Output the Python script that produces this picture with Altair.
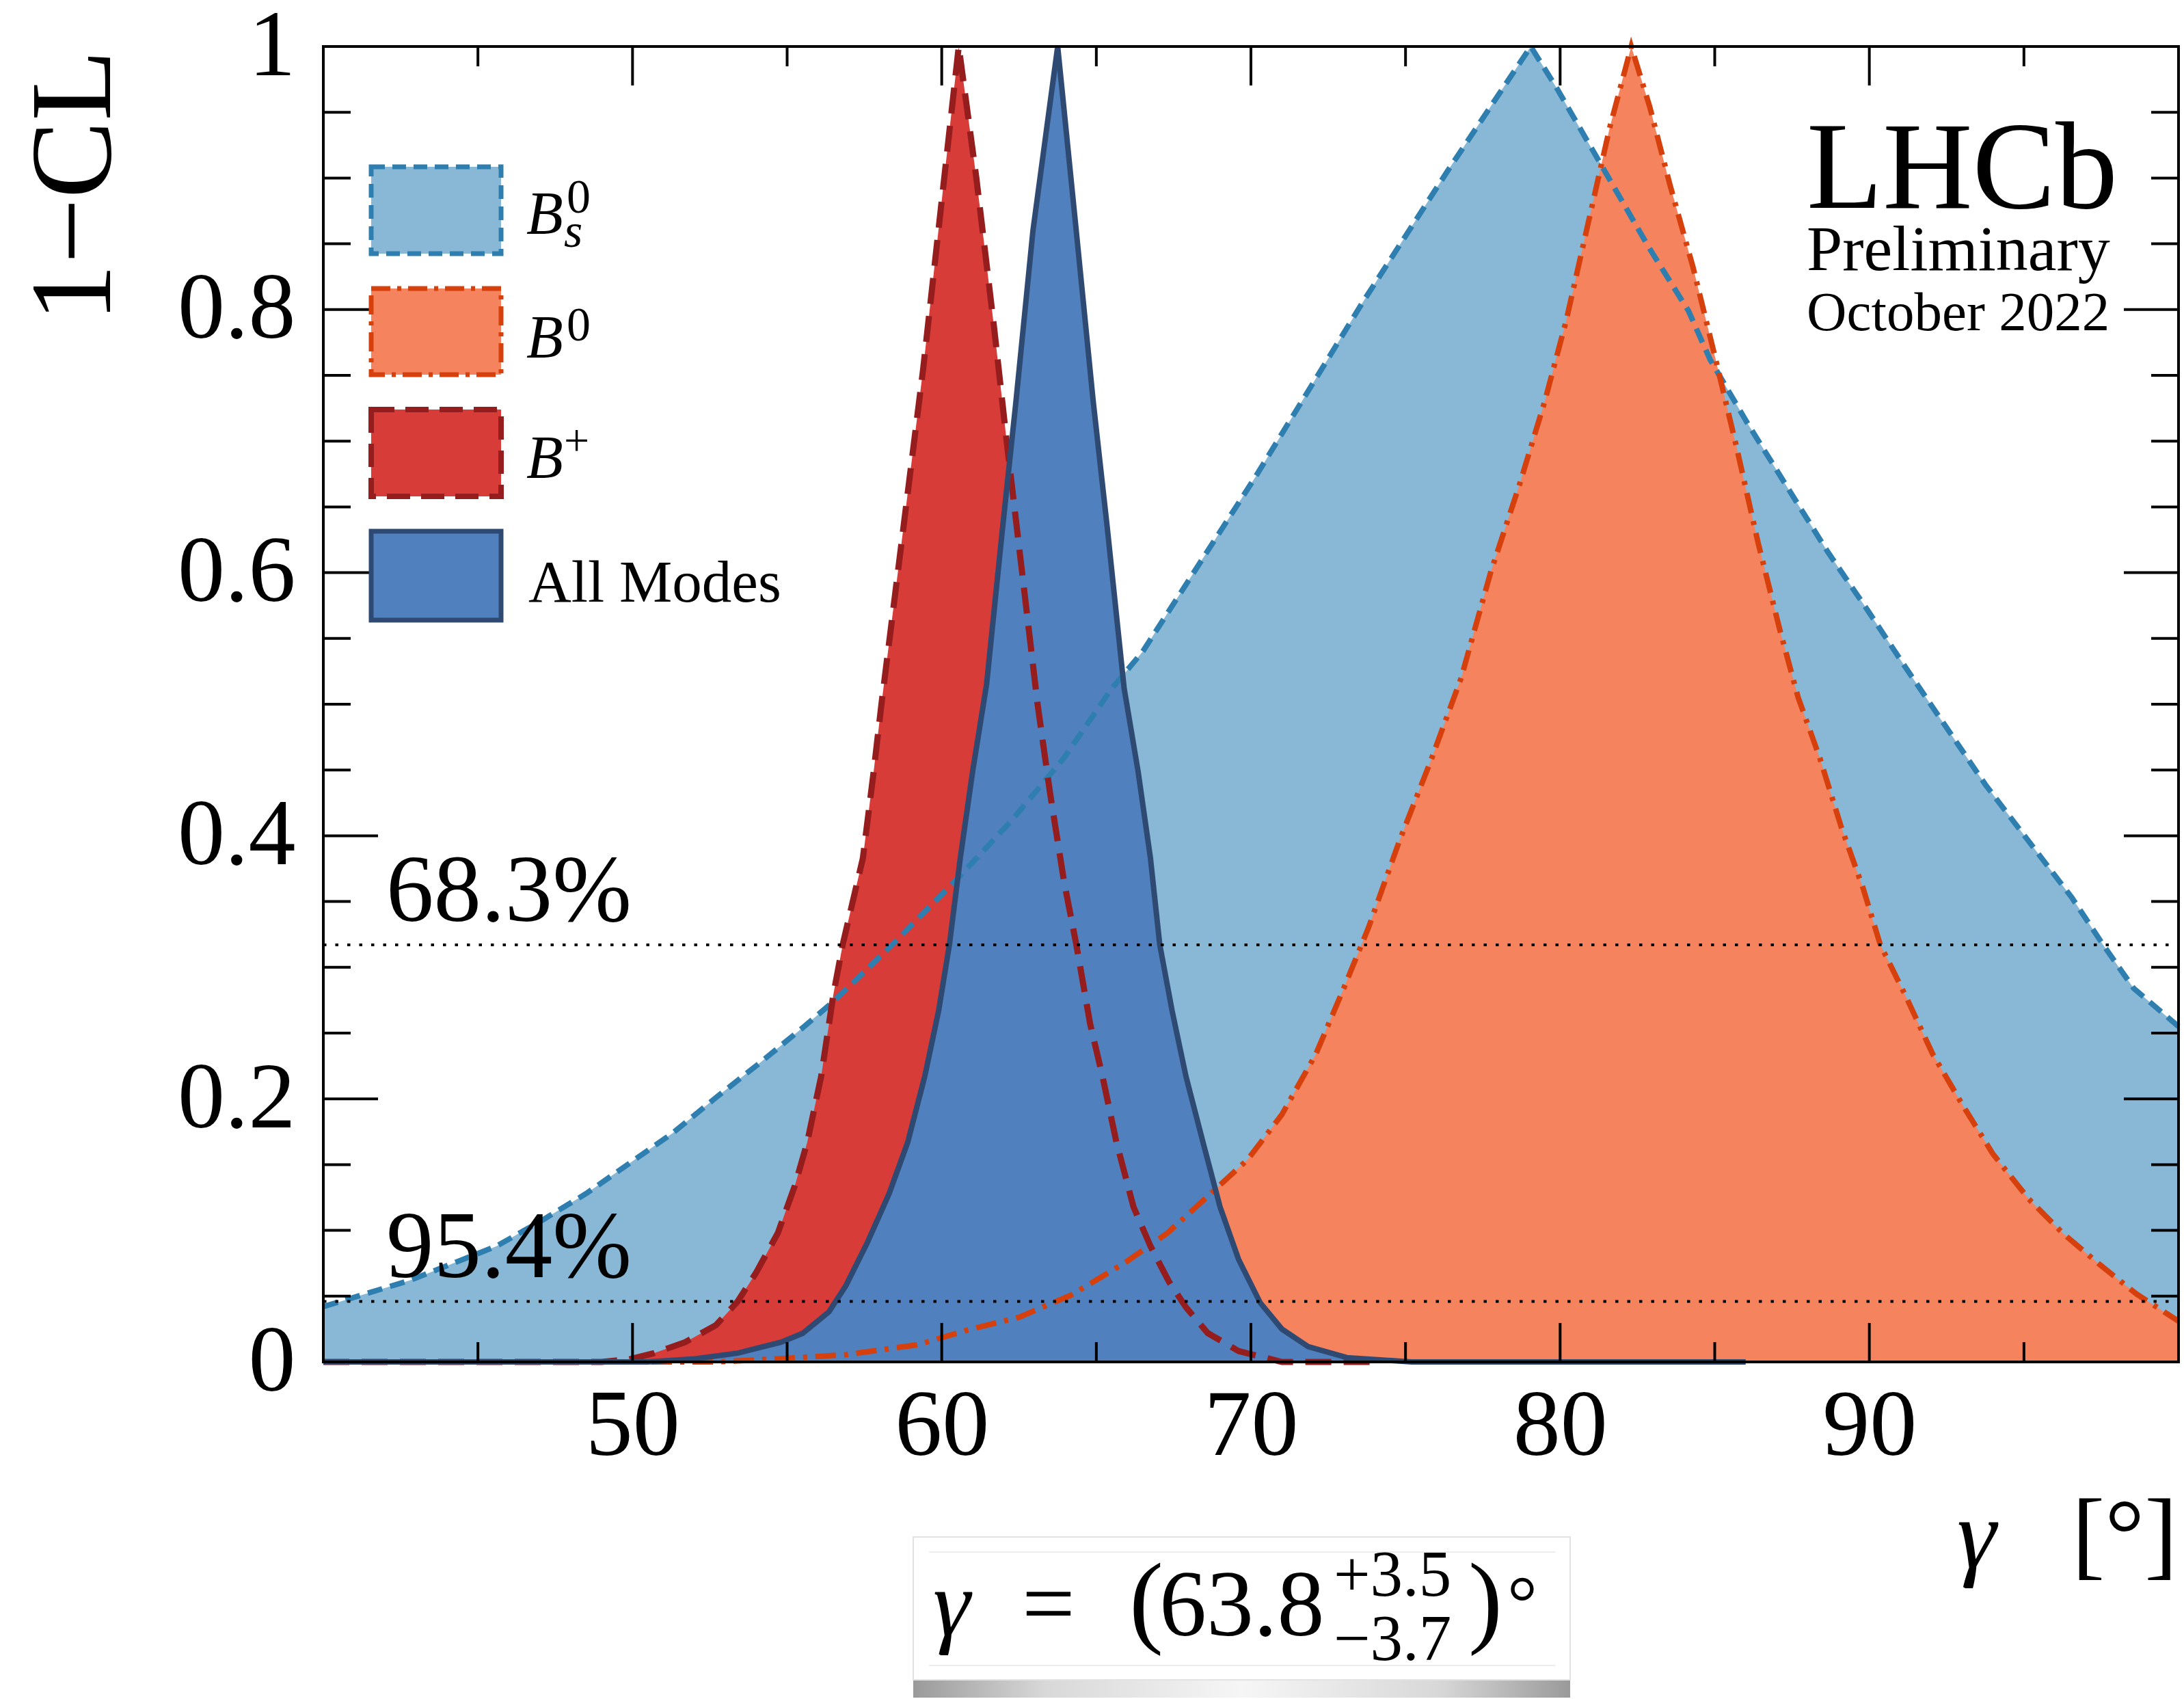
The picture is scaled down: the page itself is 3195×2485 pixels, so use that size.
import altair as alt
import pandas as pd

FONT = "Liberation Serif"
W, H = 2714, 1924

# ---------------- data ----------------
BS_GAMMA = [40.0, 41.4, 42.8, 44.2, 45.6, 47.1, 48.5, 49.9, 51.3, 52.7,
            54.1, 55.5, 56.5, 58.35, 60.45, 62.2, 63.95, 65.5, 66.5, 70.15,
            73.6, 76.35, 79.05, 79.9, 81.45, 82.85, 84.15, 84.85, 86.1, 87.4,
            88.65, 89.9, 91.2, 92.3, 93.75, 95.15, 96.55, 97.55, 98.55, 100.0]
BS_CL = [0.042, 0.052, 0.062, 0.075, 0.088, 0.108, 0.128, 0.151, 0.174, 0.201,
         0.227, 0.254, 0.274, 0.316, 0.366, 0.410, 0.459, 0.512, 0.540, 0.673,
         0.805, 0.905, 1.0, 0.968, 0.905, 0.848, 0.799, 0.762, 0.712, 0.663,
         0.616, 0.573, 0.527, 0.489, 0.439, 0.396, 0.353, 0.3175, 0.284, 0.255]

B0_GAMMA = [40.0, 52.7, 54.8, 56.9, 59.2, 60.8, 62.5, 64.2, 65.9, 67.3,
            68.7, 69.9, 71.0, 72.1, 73.0, 73.8, 74.8, 75.8, 76.8, 77.75,
            78.7, 79.5, 80.2, 80.9, 81.6, 82.3, 82.9, 83.55, 84.3, 85.0,
            85.7, 86.4, 87.1, 87.7, 88.4, 89.1, 89.8, 90.35, 91.2, 92.05,
            93.05, 94.0, 95.15, 96.25, 97.4, 98.65, 100.0]
B0_CL = [0.0, 0.0, 0.0025, 0.0055, 0.013, 0.024, 0.034, 0.051, 0.075, 0.098,
         0.128, 0.154, 0.188, 0.234, 0.284, 0.330, 0.396, 0.456, 0.520, 0.600,
         0.668, 0.730, 0.792, 0.865, 0.938, 1.0, 0.954, 0.895, 0.832, 0.765,
         0.696, 0.623, 0.557, 0.505, 0.459, 0.406, 0.360, 0.3175, 0.277, 0.234,
         0.194, 0.158, 0.124, 0.098, 0.075, 0.0515, 0.031]

BP_GAMMA = [40.0, 49.0, 49.9, 50.7, 51.7, 52.7, 53.4, 54.0, 54.7, 55.25,
            55.65, 56.1, 56.5, 56.8, 57.45, 57.8, 58.05, 59.4, 60.55, 61.12,
            61.7, 62.1, 62.4, 63.1, 63.5, 63.95, 64.35, 64.8, 65.2, 65.65,
            66.2, 66.75, 67.35, 67.9, 68.6, 69.6, 71.0, 74.0]
BP_CL = [0.0, 0.0, 0.002, 0.0067, 0.015, 0.028, 0.046, 0.068, 0.098, 0.134,
         0.167, 0.217, 0.280, 0.3175, 0.383, 0.449, 0.500, 0.755, 1.0, 0.900,
         0.785, 0.700, 0.640, 0.500, 0.433, 0.366, 0.3175, 0.257, 0.217, 0.167,
         0.118, 0.088, 0.061, 0.0415, 0.022, 0.0083, 0.0, 0.0]

ALL_GAMMA = [40.0, 50.5, 52.0, 53.4, 54.8, 55.5, 56.35, 56.9, 57.6, 58.3,
             58.9, 59.45, 59.9, 60.25, 60.6, 61.0, 61.45, 61.95, 62.4, 62.95,
             63.75, 64.35, 64.9, 65.35, 65.9, 66.35, 66.75, 67.05, 67.45, 67.9,
             68.45, 69.0, 69.6, 70.3, 71.0, 71.85, 73.1, 75.2, 86.0]
ALL_CL = [0.0, 0.0, 0.0023, 0.0067, 0.015, 0.0217, 0.038, 0.058, 0.091, 0.128,
          0.167, 0.217, 0.267, 0.3175, 0.383, 0.449, 0.515, 0.630, 0.730, 0.860,
          1.0, 0.860, 0.730, 0.635, 0.512, 0.449, 0.383, 0.3175, 0.267, 0.217,
          0.167, 0.118, 0.078, 0.045, 0.025, 0.0117, 0.0033, 0.0, 0.0]

X_LABEL_VALUES = [50, 60, 70, 80, 90]
Y_LABEL_VALUES = [0, 0.2, 0.4, 0.6, 0.8, 1]
X_MAJOR_TICKS = [50, 60, 70, 80, 90]
X_MINOR_TICKS = [45, 55, 65, 75, 85, 95]
Y_MAJOR_TICKS = [0.2, 0.4, 0.6, 0.8]
Y_MINOR_TICKS = [0.05, 0.1, 0.15, 0.25, 0.3, 0.35, 0.45, 0.5, 0.55, 0.65,
                 0.7, 0.75, 0.85, 0.9, 0.95]
CL_LEVELS = [0.317, 0.046]
CL_LABELS = ["68.3%", "95.4%"]

# ---------------- styles ----------------
BS_FILL, BS_LINE = "#88b8d5", "#2e7fb0"
B0_FILL, B0_LINE = "#f4835e", "#d5400c"
BP_FILL, BP_LINE = "#d73c38", "#951d1d"
ALL_FILL, ALL_LINE = "#5081be", "#2e4a73"
BS_DASH = [22, 12]
B0_DASH = [30, 12, 6, 12]
BP_DASH = [38, 18]

X_SCALE = alt.Scale(domain=[40, 100], nice=False, zero=False)
Y_SCALE = alt.Scale(domain=[0, 1], nice=False, zero=False)
AXIS_X = alt.Axis(values=X_LABEL_VALUES, title=None, domain=False, ticks=False,
                  tickSize=0, grid=False, labelFont=FONT, labelFontSize=138,
                  labelColor="black", labelPadding=26, labelFlush=False,
                  labelOverlap=False)
AXIS_Y = alt.Axis(values=Y_LABEL_VALUES, format="~g", title=None, domain=False,
                  ticks=False, tickSize=0, grid=False, labelFont=FONT,
                  labelFontSize=138, labelColor="black", labelPadding=41,
                  labelFlush=False, labelOverlap=False)


def xq():
    return alt.X("gamma:Q", scale=X_SCALE, axis=AXIS_X)


def yq():
    return alt.Y("cl:Q", scale=Y_SCALE, axis=AXIS_Y)


def sdf(g, c):
    return pd.DataFrame({"gamma": g, "cl": c})


one = pd.DataFrame({"k": [0]})

# (data, fill, line colour, dash, width, miter limit)
series = [
    (sdf(BS_GAMMA, BS_CL), BS_FILL, BS_LINE, BS_DASH, 8, 4),
    (sdf(B0_GAMMA, B0_CL), B0_FILL, B0_LINE, B0_DASH, 8, 14),
    (sdf(BP_GAMMA, BP_CL), BP_FILL, BP_LINE, BP_DASH, 9, 14),
    (sdf(ALL_GAMMA, ALL_CL), ALL_FILL, ALL_LINE, None, 8, 2),
]

layers = []
for df, fill, line, dash, sw, ml in series:
    layers.append(alt.Chart(df).mark_area(fill=fill, fillOpacity=1, strokeWidth=0,
                                          interpolate="linear")
                  .encode(x=xq(), y=yq()))
for df, fill, line, dash, sw, ml in series:
    kw = dict(color=line, strokeWidth=sw, strokeCap="butt", strokeJoin="miter",
              strokeMiterLimit=ml, interpolate="linear")
    if dash:
        kw["strokeDash"] = dash
    layers.append(alt.Chart(df).mark_line(**kw).encode(x=xq(), y=yq()))

# confidence-level lines and labels
cl_df = pd.DataFrame({"cl": CL_LEVELS, "label": CL_LABELS})
layers.append(alt.Chart(cl_df).mark_rule(color="black", strokeWidth=4,
                                         strokeDash=[4.5, 13], strokeCap="butt")
              .encode(y=yq(), x=alt.value(0), x2=alt.value(W)))
layers.append(alt.Chart(cl_df).mark_text(font=FONT, fontSize=139, align="left",
                                         baseline="alphabetic", dy=-35, color="black")
              .encode(y=yq(), x=alt.value(92), text="label:N"))

# inward ticks on all four sides
xmaj = pd.DataFrame({"gamma": X_MAJOR_TICKS})
xmin = pd.DataFrame({"gamma": X_MINOR_TICKS})
ymaj = pd.DataFrame({"cl": Y_MAJOR_TICKS})
ymin = pd.DataFrame({"cl": Y_MINOR_TICKS})
TK = dict(color="black", strokeWidth=4)
for d, ln in ((xmaj, 57), (xmin, 29)):
    layers.append(alt.Chart(d).mark_rule(**TK).encode(x=xq(), y=alt.value(H), y2=alt.value(H - ln)))
    layers.append(alt.Chart(d).mark_rule(**TK).encode(x=xq(), y=alt.value(0), y2=alt.value(ln)))
for d, ln in ((ymaj, 80), (ymin, 40)):
    layers.append(alt.Chart(d).mark_rule(**TK).encode(y=yq(), x=alt.value(0), x2=alt.value(ln)))
    layers.append(alt.Chart(d).mark_rule(**TK).encode(y=yq(), x=alt.value(W), x2=alt.value(W - ln)))

# frame
layers.append(alt.Chart(one).mark_rect(fillOpacity=0, stroke="black", strokeWidth=4)
              .encode(x=alt.value(0), x2=alt.value(W), y=alt.value(0), y2=alt.value(H)))


def txt(s, x, y, size, style="normal", align="left", baseline="alphabetic", angle=0):
    return (alt.Chart(one)
            .mark_text(text=s, font=FONT, fontSize=size, fontStyle=style, align=align,
                       baseline=baseline, angle=angle, color="black")
            .encode(x=alt.value(x), y=alt.value(y)))


def box(x1, x2, y1, y2, fill, stroke, sw, dash=None):
    kw = dict(fill=fill, stroke=stroke, strokeWidth=sw)
    if dash:
        kw["strokeDash"] = dash
    return (alt.Chart(one).mark_rect(**kw)
            .encode(x=alt.value(x1), x2=alt.value(x2), y=alt.value(y1), y2=alt.value(y2)))


# legend
layers.append(box(70, 260, 176, 303, BS_FILL, BS_LINE, 7, [20, 11]))
layers.append(box(70, 260, 354, 480, B0_FILL, B0_LINE, 7, [28, 10, 6, 10]))
layers.append(box(70, 260, 531, 658, BP_FILL, BP_LINE, 8, [34, 16]))
layers.append(box(70, 260, 709, 839, ALL_FILL, ALL_LINE, 7))
layers.append(txt("B", 297, 273, 88, "italic"))
layers.append(txt("0", 356, 243, 70))
layers.append(txt("s", 352, 293, 70, "italic"))
layers.append(txt("B", 297, 454, 88, "italic"))
layers.append(txt("0", 356, 430, 70))
layers.append(txt("B", 297, 630, 88, "italic"))
layers.append(txt("+", 352, 598, 66))
layers.append(txt("All Modes", 300, 812, 87))

# experiment label
layers.append(txt("LHCb", 2170, 236, 182))
layers.append(txt("Preliminary", 2170, 327, 94))
layers.append(txt("October 2022", 2170, 415, 81))

# axis titles
layers.append(txt("1\u2212CL", -363, 5, 170, align="right", baseline="middle", angle=270))
layers.append(txt("\u03b3", 2390, 2224, 145, "italic"))
layers.append(txt("[\u00b0]", 2558, 2224, 145))

# result box below the plot
layers.append(alt.Chart(one).mark_rect(
    fill=alt.Gradient(gradient="linear", x1=0, x2=1, y1=0, y2=0,
                      stops=[alt.GradientStop(color="#9a9a9a", offset=0),
                             alt.GradientStop(color="#d8d8d8", offset=0.2),
                             alt.GradientStop(color="#f6f6f6", offset=0.5),
                             alt.GradientStop(color="#d8d8d8", offset=0.8),
                             alt.GradientStop(color="#9a9a9a", offset=1)]))
    .encode(x=alt.value(863), x2=alt.value(1824), y=alt.value(2386), y2=alt.value(2415)))
layers.append(box(863, 1824, 2180, 2389, "white", "#e2e2e2", 2))
layers.append(alt.Chart(one).mark_rule(color="#ececec", strokeWidth=2)
              .encode(x=alt.value(886), x2=alt.value(1802), y=alt.value(2202)))
layers.append(alt.Chart(one).mark_rule(color="#ececec", strokeWidth=2)
              .encode(x=alt.value(886), x2=alt.value(1802), y=alt.value(2368)))
layers.append(txt("\u03b3", 892, 2324, 138, "italic"))
layers.append(txt("=", 1022, 2324, 138))
layers.append(txt("(", 1179, 2322, 150))
layers.append(txt("63.8", 1223, 2324, 138))
layers.append(txt("+3.5", 1478, 2266, 95))
layers.append(txt("\u22123.7", 1478, 2360, 95))
layers.append(txt(")", 1675, 2322, 150))
layers.append(txt("\u00b0", 1732, 2313, 110))

chart = (alt.layer(*layers)
         .properties(width=W, height=H,
                     autosize=alt.AutoSizeParams(type="none"),
                     padding={"left": 473, "top": 68, "right": 8, "bottom": 493},
                     background="white")
         .configure_view(stroke="transparent"))

chart.save("out.html", embed_options={"renderer": "svg", "actions": False})
